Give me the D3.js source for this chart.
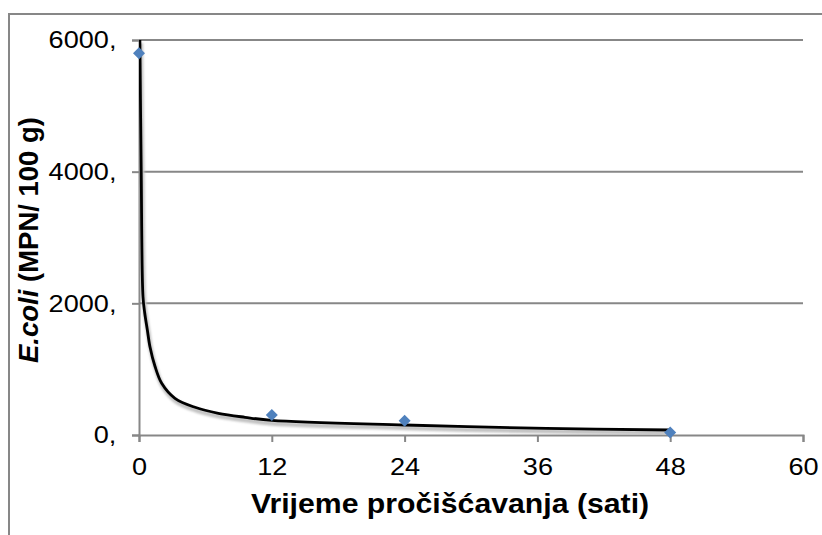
<!DOCTYPE html>
<html>
<head>
<meta charset="utf-8">
<script src="https://cdn.jsdelivr.net/npm/d3@7"></script>
<style>
  body { margin: 0; background: #fff; }
  text { font-family: Arial, "Liberation Sans", sans-serif; fill: #000; }
</style>
</head>
<body>
<svg id="chart" width="822" height="535"></svg>
<script>
// measured points (hours, MPN/100 g)
const hours = [0, 12, 24, 48];
const ecoli = [5800, 304, 217, 38];

// trend curve
const trendX = [0.08, 0.2, 0.36, 0.52, 0.75, 0.99, 1.45, 2.05, 3.25, 5.06, 7.17, 9.58, 12, 24, 36.8, 48];
const trendY = [6000, 4000, 2100, 1850, 1600, 1340, 1040, 785, 557, 421, 330, 269, 222, 152, 101, 76];

const xTicks = [0, 12, 24, 36, 48, 60];
const yTicks = [0, 2000, 4000, 6000];

const margin = {top: 40, right: 19, bottom: 100, left: 139};
const width = 822, height = 535;
const svg = d3.select("#chart");

const x = d3.scaleLinear().domain([0, 60]).range([margin.left, width - margin.right]);
const y = d3.scaleLinear().domain([0, 6000]).range([height - margin.bottom, margin.top]);

const grey = "#878787";
const stretch = "scale(1.13,1)";

// outer frame (only top and left visible)
svg.append("path")
    .attr("d", "M9,535 V14 H822")
    .attr("fill", "none")
    .attr("stroke", grey)
    .attr("stroke-width", 2);

// horizontal gridlines
svg.append("g")
    .selectAll("line")
    .data(yTicks.filter(d => d > 0))
    .join("line")
    .attr("x1", x(0)).attr("x2", x(60))
    .attr("y1", d => y(d)).attr("y2", d => y(d))
    .attr("stroke", grey)
    .attr("stroke-width", 2);

const xAxis = g => g
    .attr("transform", `translate(0,${y(0)})`)
    .call(d3.axisBottom(x).tickValues(xTicks).tickSize(7).tickPadding(16).tickFormat(d3.format("d")))
    .call(g => g.selectAll("line, path").attr("stroke", grey).attr("stroke-width", 2))
    .call(g => g.selectAll("text").attr("font-size", 24).attr("font-family", null).attr("transform", stretch));

const yAxis = g => g
    .attr("transform", `translate(${x(0)},0)`)
    .call(d3.axisLeft(y).tickValues(yTicks).tickSize(7).tickPadding(13).tickFormat(d => d + ","))
    .call(g => g.selectAll("line, path").attr("stroke", grey).attr("stroke-width", 2))
    .call(g => g.selectAll("text").attr("font-size", 24).attr("font-family", null).attr("transform", stretch));

svg.append("g").call(xAxis);
svg.append("g").call(yAxis);

// shadow filter for the trend line
const defs = svg.append("defs");
defs.append("filter").attr("id", "soft")
    .append("feGaussianBlur").attr("stdDeviation", 1);
defs.append("clipPath").attr("id", "plot")
    .append("rect")
    .attr("x", x(0)).attr("y", y(6000))
    .attr("width", x(60) - x(0)).attr("height", y(0) - y(6000));

const trend = trendX.map((d, i) => [d, trendY[i]]);
const line = d3.line()
    .x(d => x(d[0]))
    .y(d => y(d[1]))
    .curve(d3.curveCatmullRom.alpha(0.5));

const tg = svg.append("g").attr("clip-path", "url(#plot)");
tg.append("path")
    .attr("d", line(trend))
    .attr("fill", "none")
    .attr("stroke", "#c2c2c2")
    .attr("stroke-width", 4.5)
    .attr("filter", "url(#soft)")
    .attr("transform", "translate(1,3)");
tg.append("path")
    .attr("d", line(trend))
    .attr("fill", "none")
    .attr("stroke", "#000")
    .attr("stroke-width", 2.8)
    .attr("stroke-linejoin", "round");

// markers
svg.append("g")
    .selectAll("path")
    .data(hours.map((d, i) => [d, ecoli[i]]))
    .join("path")
    .attr("d", d3.symbol().type(d3.symbolSquare).size(72))
    .attr("transform", d => `translate(${x(d[0])},${y(d[1])}) rotate(45)`)
    .attr("fill", "#4f81bd");

// axis titles
svg.append("text")
    .attr("transform", "translate(450,513) scale(1.12,1)")
    .attr("text-anchor", "middle")
    .attr("font-size", 27)
    .attr("font-weight", "bold")
    .text("Vrijeme pročišćavanja (sati)");

const yt = svg.append("text")
    .attr("transform", "translate(38,240) rotate(-90)")
    .attr("text-anchor", "middle")
    .attr("font-size", 27.5)
    .attr("font-weight", "bold");
yt.append("tspan").attr("font-style", "italic").text("E.coli");
yt.append("tspan").text(" (MPN/ 100 g)");
</script>
</body>
</html>
